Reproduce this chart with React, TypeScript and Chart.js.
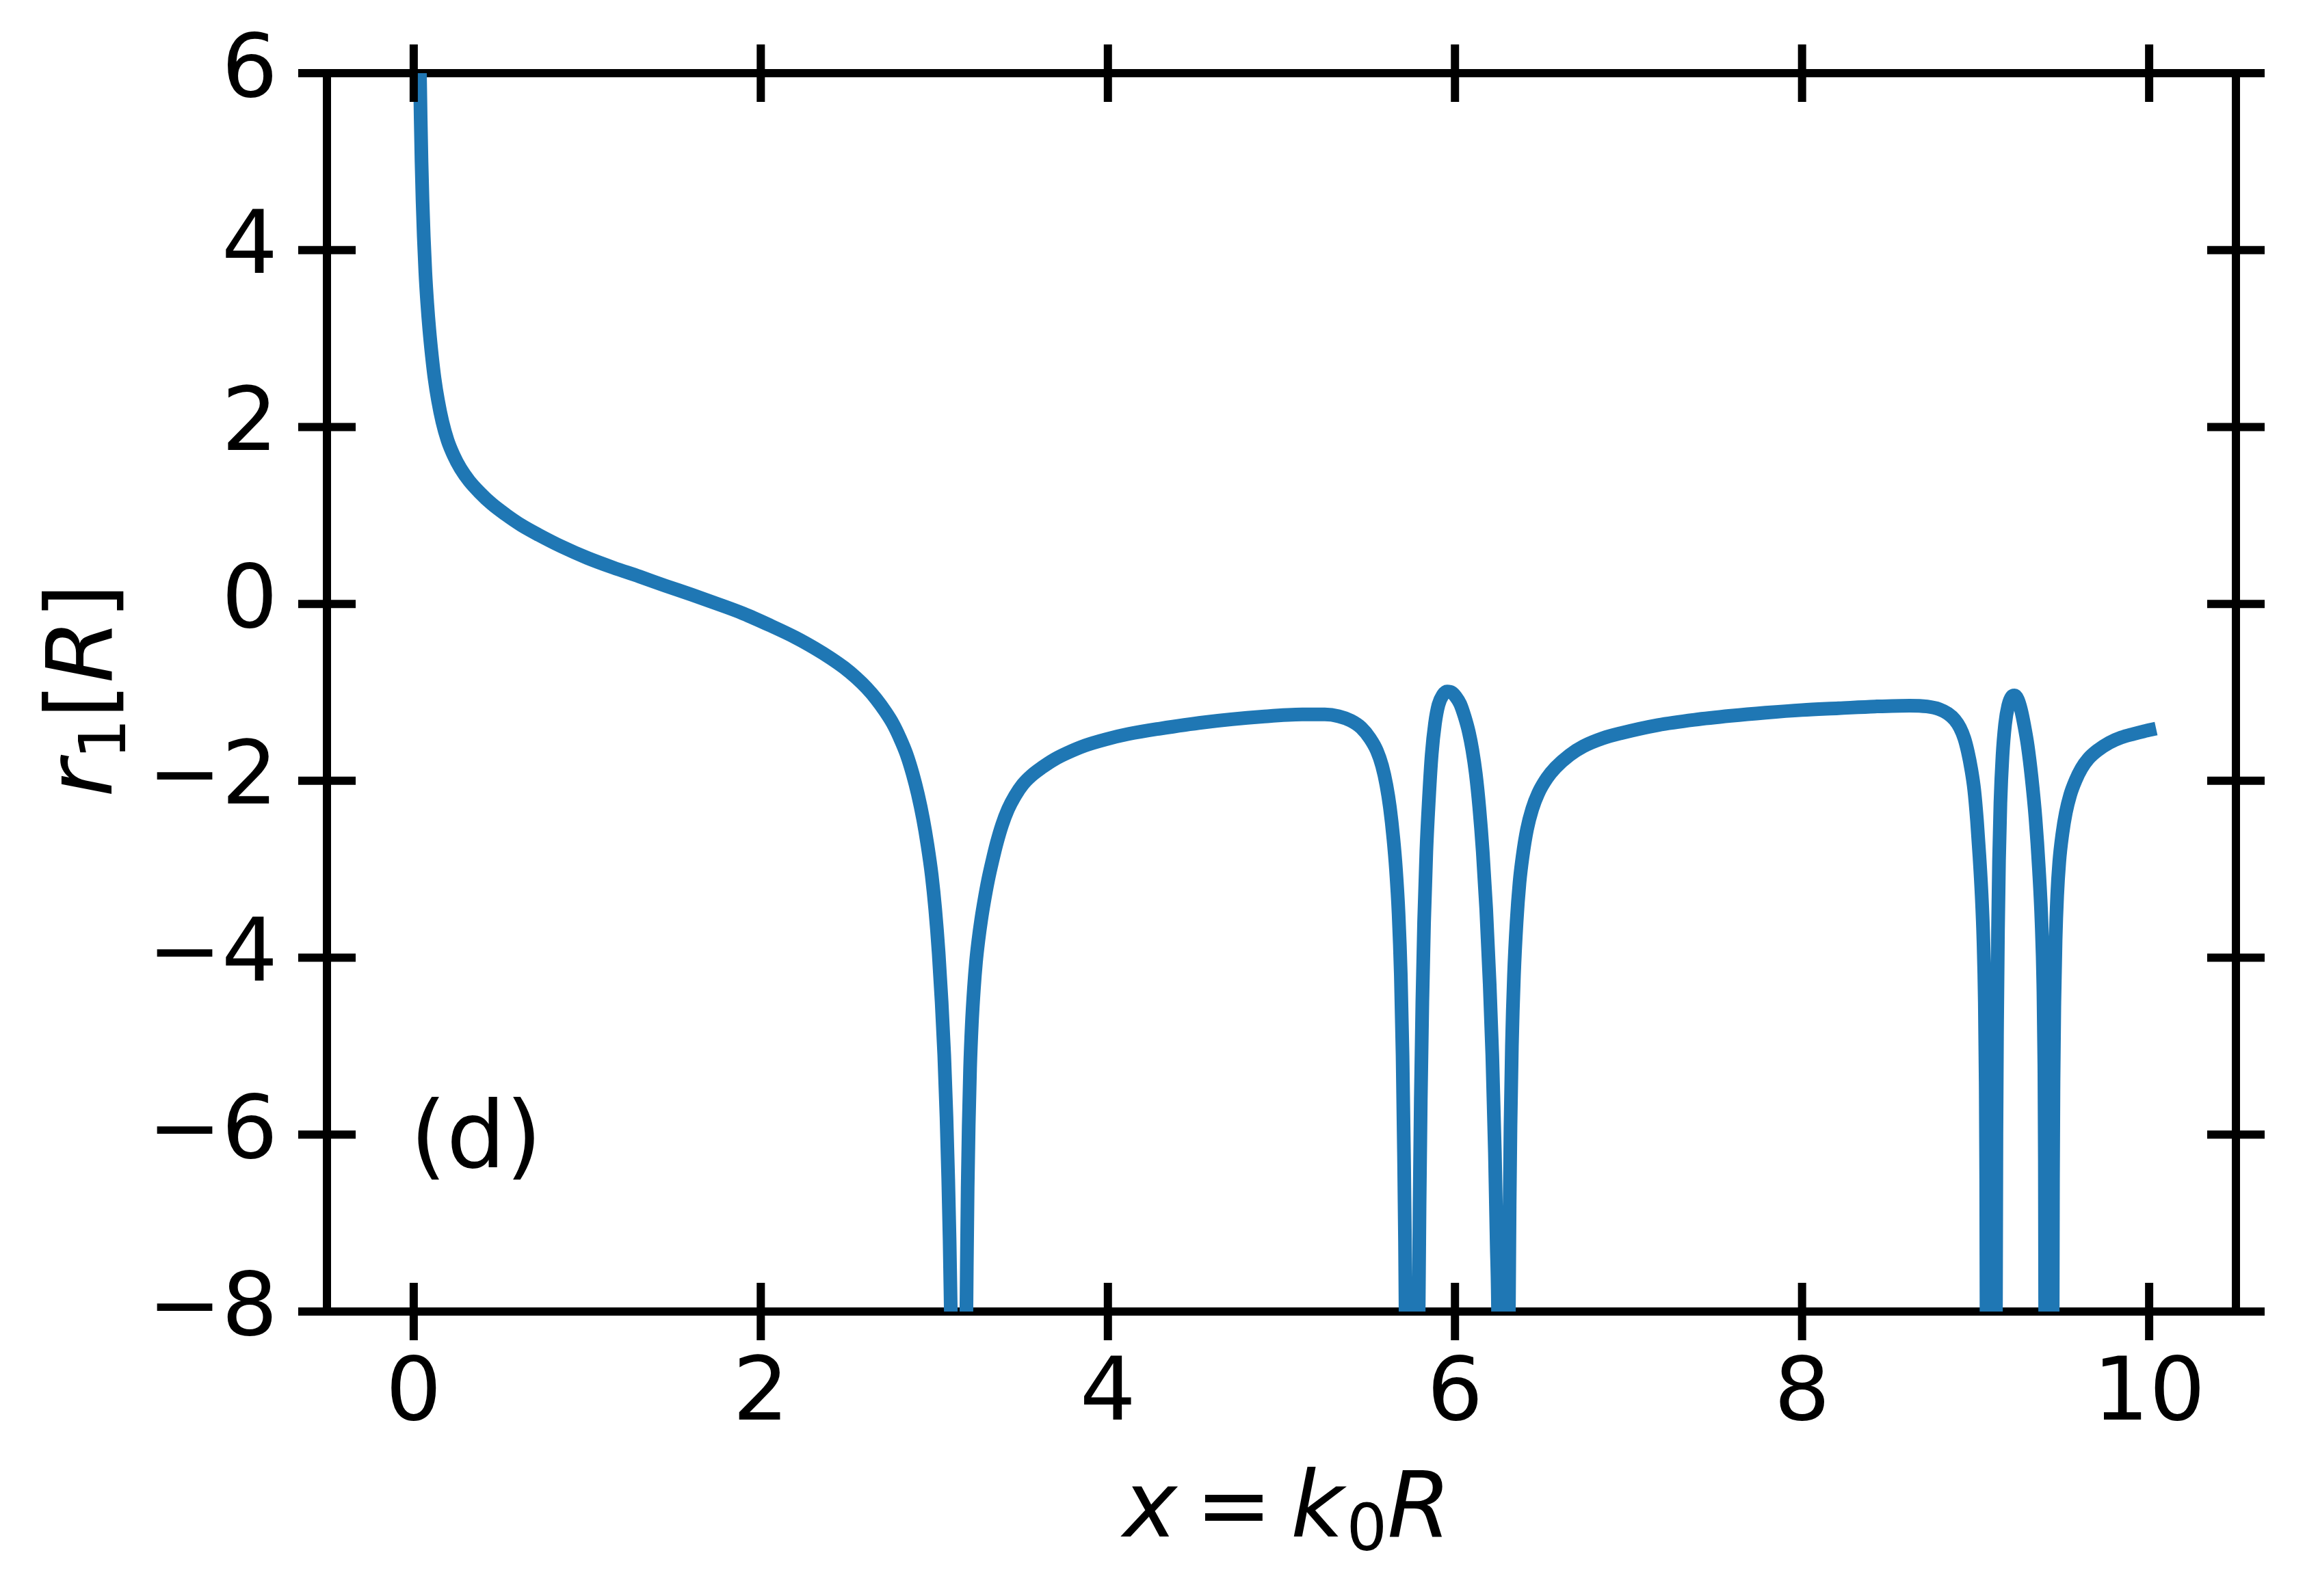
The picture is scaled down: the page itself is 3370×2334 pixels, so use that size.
import React, { useEffect, useRef } from 'react';
import { Chart, registerables } from 'chart.js';

Chart.register(...registerables);

// ---------- data ----------
const xTickValues = [0, 2, 4, 6, 8, 10];
const yTickValues = [-8, -6, -4, -2, 0, 2, 4, 6];
const xRange = [-0.5, 10.5];
const yRange = [-8, 6];

const curveX = [
  0.033, 0.036, 0.04, 0.045, 0.051, 0.058, 0.067, 0.078, 0.09, 0.105, 0.12, 0.14, 0.165, 0.195, 0.23, 0.27,
  0.32, 0.38, 0.45, 0.53, 0.62, 0.72, 0.85, 1.0, 1.15, 1.3, 1.45, 1.6, 1.75, 1.9, 2.05, 2.2,
  2.31, 2.4, 2.48, 2.55, 2.61, 2.665, 2.715, 2.76, 2.8, 2.84, 2.875, 2.905, 2.935, 2.96, 2.985, 3.005,
  3.025, 3.042, 3.057, 3.07, 3.08, 3.088, 3.094, 3.098, 3.14,
  3.183, 3.187, 3.192, 3.198, 3.206, 3.216, 3.228, 3.24, 3.254, 3.27, 3.29, 3.31, 3.335, 3.36, 3.39, 3.425,
  3.465, 3.51, 3.56, 3.62, 3.69, 3.76, 3.87, 3.99, 4.12, 4.3, 4.55, 4.89, 5.12, 5.25, 5.33, 5.4,
  5.46, 5.51, 5.55, 5.58, 5.605, 5.625, 5.645, 5.66, 5.675, 5.688, 5.698, 5.706, 5.712, 5.716, 5.75,
  5.79, 5.796, 5.803, 5.812, 5.822, 5.835, 5.85, 5.866, 5.885, 5.905, 5.93, 5.955, 5.98, 6.005,
  6.03, 6.055, 6.08, 6.1, 6.12, 6.14, 6.16, 6.18, 6.2, 6.215, 6.23, 6.24, 6.249, 6.28,
  6.31, 6.315, 6.32, 6.328, 6.34, 6.355, 6.372, 6.39, 6.415, 6.445, 6.48, 6.53, 6.58, 6.66, 6.74,
  6.85, 6.96, 7.17, 7.38, 7.59, 7.79, 8.0, 8.21, 8.42, 8.62, 8.72, 8.79, 8.84, 8.88, 8.91, 8.935,
  8.955, 8.975, 8.992, 9.008, 9.022, 9.035, 9.045, 9.053, 9.058, 9.061, 9.063, 9.09,
  9.117, 9.12, 9.124, 9.129, 9.135, 9.143, 9.155, 9.17, 9.188, 9.208, 9.225, 9.243, 9.262, 9.28,
  9.3, 9.322, 9.345, 9.365, 9.38, 9.39, 9.396, 9.399, 9.401, 9.42,
  9.444, 9.446, 9.449, 9.454, 9.461, 9.47, 9.482, 9.5, 9.52, 9.545, 9.575, 9.61, 9.65, 9.7, 9.77,
  9.84, 9.91, 9.97, 10.04,
];

const curveY = [
  6.4, 6.0, 5.5, 5.0, 4.55, 4.15, 3.75, 3.4, 3.1, 2.8, 2.55, 2.3, 2.06, 1.85, 1.68, 1.53,
  1.39, 1.26, 1.13, 1.01, 0.89, 0.78, 0.65, 0.52, 0.41, 0.31, 0.205, 0.105, 0.0, -0.11, -0.24, -0.38,
  -0.5, -0.61, -0.72, -0.835, -0.95, -1.075, -1.21, -1.35, -1.51, -1.7, -1.92, -2.15, -2.43, -2.72, -3.07, -3.45,
  -3.95, -4.5, -5.1, -5.8, -6.5, -7.2, -7.9, -8.4, -20,
  -8.4, -7.5, -6.6, -5.9, -5.25, -4.75, -4.35, -4.05, -3.8, -3.57, -3.33, -3.12, -2.9, -2.7, -2.5, -2.32,
  -2.17, -2.04, -1.94, -1.85, -1.76, -1.69, -1.6, -1.53, -1.47, -1.41, -1.34, -1.275, -1.25, -1.25, -1.27, -1.32,
  -1.4, -1.52, -1.66, -1.83, -2.05, -2.3, -2.65, -3.0, -3.5, -4.2, -5.1, -6.2, -7.2, -8.2, -20,
  -8.2, -6.8, -5.6, -4.5, -3.6, -2.8, -2.2, -1.7, -1.35, -1.14, -1.03, -0.99, -1.0, -1.05,
  -1.13, -1.27, -1.45, -1.65, -1.92, -2.3, -2.8, -3.45, -4.3, -5.1, -6.2, -7.2, -8.2, -20,
  -8.2, -6.8, -5.9, -5.0, -4.2, -3.6, -3.15, -2.85, -2.55, -2.32, -2.14, -1.97, -1.85, -1.71, -1.61,
  -1.52, -1.46, -1.37, -1.31, -1.265, -1.23, -1.2, -1.18, -1.16, -1.15, -1.16, -1.19, -1.24, -1.31, -1.4, -1.52,
  -1.67, -1.87, -2.1, -2.45, -2.85, -3.3, -3.8, -4.5, -5.4, -6.5, -8.2, -20,
  -8.2, -6.0, -4.7, -3.7, -2.9, -2.25, -1.72, -1.36, -1.15, -1.05, -1.035, -1.08, -1.2, -1.37,
  -1.6, -1.95, -2.42, -3.0, -3.6, -4.3, -5.2, -6.3, -8.2, -20,
  -8.2, -6.5, -5.4, -4.5, -3.8, -3.3, -2.92, -2.6, -2.36, -2.16, -2.0, -1.86, -1.75, -1.66, -1.57,
  -1.51, -1.47, -1.44, -1.41,
];

const panelLabel = '(d)';
const panelLabelAt = [-0.02, -6.37];

// ---------- styling ----------
const FONT = '"DejaVu Sans", "Liberation Sans", sans-serif';
const TICK_FONT_SIZE = 129;
const LABEL_FONT_SIZE = 134;
const LINE_COLOR = '#1f77b4';
const SPINE_W = 12;
const TICK_HALF = 42;

const fmtTick = (v: number | string) => {
  const n = Number(v);
  return n < 0 ? '\u2212' + Math.abs(n) : String(n);
};

type Part = { t: string; italic?: boolean; sub?: boolean; gapBefore?: number };

const xLabelParts: Part[] = [
  { t: 'x', italic: true },
  { t: '=', gapBefore: 0.2 },
  { t: 'k', italic: true, gapBefore: 0.2 },
  { t: '0', sub: true, gapBefore: 0.03 },
  { t: 'R', italic: true },
];
const yLabelParts: Part[] = [
  { t: 'r', italic: true },
  { t: '1', sub: true },
  { t: '[' },
  { t: 'R', italic: true },
  { t: ']' },
];

function partFont(p: Part, size: number) {
  const s = p.sub ? size * 0.7 : size;
  return `${p.italic ? 'italic ' : ''}${s}px ${FONT}`;
}

function layoutParts(ctx: CanvasRenderingContext2D, parts: Part[], size: number) {
  let cur = 0;
  const out: { p: Part; x: number }[] = [];
  for (const p of parts) {
    cur += (p.gapBefore || 0) * size;
    ctx.font = partFont(p, size);
    out.push({ p, x: cur });
    cur += ctx.measureText(p.t).width;
  }
  return { items: out, total: cur };
}

function drawParts(ctx: CanvasRenderingContext2D, parts: Part[], size: number, shift: number) {
  const { items, total } = layoutParts(ctx, parts, size);
  const start = -total / 2 + shift;
  ctx.textBaseline = 'alphabetic';
  ctx.textAlign = 'left';
  for (const it of items) {
    ctx.font = partFont(it.p, size);
    ctx.fillText(it.p.t, start + it.x, it.p.sub ? size * 0.15 : 0);
  }
}

const decorPlugin = {
  id: 'decor',
  afterDraw(chart: any) {
    const ctx: CanvasRenderingContext2D = chart.ctx;
    const a = chart.chartArea;
    ctx.save();
    // inout tick marks on all four sides
    ctx.strokeStyle = '#000';
    ctx.lineWidth = SPINE_W;
    ctx.lineCap = 'butt';
    ctx.beginPath();
    for (const id of ['x', 'x2']) {
      const s = chart.scales[id];
      const edge = id === 'x' ? a.bottom : a.top;
      for (const t of s.ticks) {
        const p = s.getPixelForValue(t.value);
        ctx.moveTo(p, edge - TICK_HALF);
        ctx.lineTo(p, edge + TICK_HALF);
      }
    }
    for (const id of ['y', 'y2']) {
      const s = chart.scales[id];
      const edge = id === 'y' ? a.left : a.right;
      for (const t of s.ticks) {
        const p = s.getPixelForValue(t.value);
        ctx.moveTo(edge - TICK_HALF, p);
        ctx.lineTo(edge + TICK_HALF, p);
      }
    }
    ctx.stroke();

    ctx.fillStyle = '#000';
    // panel label
    ctx.font = `136px ${FONT}`;
    ctx.textAlign = 'left';
    ctx.textBaseline = 'alphabetic';
    ctx.fillText(
      panelLabel,
      chart.scales.x.getPixelForValue(panelLabelAt[0]),
      chart.scales.y.getPixelForValue(panelLabelAt[1])
    );

    // x axis title
    ctx.save();
    ctx.translate((a.left + a.right) / 2, a.bottom + 329);
    drawParts(ctx, xLabelParts, LABEL_FONT_SIZE, 8);
    ctx.restore();

    // y axis title (rotated)
    ctx.save();
    ctx.translate(a.left - 315, (a.top + a.bottom) / 2);
    ctx.rotate(-Math.PI / 2);
    drawParts(ctx, yLabelParts, LABEL_FONT_SIZE, 3);
    ctx.restore();

    ctx.restore();
  },
};

const zeroPad = (s: any) => {
  s.paddingTop = 0;
  s.paddingBottom = 0;
  s.paddingLeft = 0;
  s.paddingRight = 0;
};

export default function App() {
  const ref = useRef<HTMLCanvasElement>(null);

  useEffect(() => {
    if (!ref.current) return;
    const tickFont = { family: FONT, size: TICK_FONT_SIZE, lineHeight: 1.2 };
    const common: any = {
      type: 'linear',
      grid: { display: false, drawTicks: false },
      border: { display: true, color: '#000', width: SPINE_W },
      z: 1,
    };
    const points = curveX.map((x, i) => ({ x, y: curveY[i] }));
    const chart = new Chart(ref.current, {
      type: 'line',
      data: {
        datasets: [
          {
            data: points,
            borderColor: LINE_COLOR,
            backgroundColor: LINE_COLOR,
            borderWidth: 20,
            pointRadius: 0,
            pointHoverRadius: 0,
            fill: false,
            cubicInterpolationMode: 'monotone',
            borderJoinStyle: 'round',
            borderCapStyle: 'butt',
            clip: 0,
          } as any,
        ],
      },
      options: {
        responsive: false,
        animation: false,
        devicePixelRatio: 1,
        layout: { padding: 0 },
        plugins: {
          legend: { display: false },
          tooltip: { enabled: false },
          title: { display: false },
        },
        events: [],
        scales: {
          x: {
            ...common,
            position: 'bottom',
            min: xRange[0],
            max: xRange[1],
            afterBuildTicks: (s: any) => {
              s.ticks = xTickValues.map((v) => ({ value: v }));
            },
            afterFit: (s: any) => {
              s.height = 416;
              zeroPad(s);
            },
            ticks: {
              display: true,
              padding: 47,
              font: tickFont,
              color: '#000',
              maxRotation: 0,
              minRotation: 0,
              autoSkip: false,
              callback: (v: any) => fmtTick(v),
            },
          },
          x2: {
            ...common,
            position: 'top',
            min: xRange[0],
            max: xRange[1],
            afterBuildTicks: (s: any) => {
              s.ticks = xTickValues.map((v) => ({ value: v }));
            },
            afterFit: (s: any) => {
              s.height = 107;
              zeroPad(s);
            },
            ticks: { display: false },
          },
          y: {
            ...common,
            position: 'left',
            min: yRange[0],
            max: yRange[1],
            afterBuildTicks: (s: any) => {
              s.ticks = yTickValues.map((v) => ({ value: v }));
            },
            afterFit: (s: any) => {
              s.width = 478;
              zeroPad(s);
            },
            ticks: {
              display: true,
              padding: 72,
              font: tickFont,
              color: '#000',
              autoSkip: false,
              callback: (v: any) => fmtTick(v),
            },
          },
          y2: {
            ...common,
            position: 'right',
            min: yRange[0],
            max: yRange[1],
            afterBuildTicks: (s: any) => {
              s.ticks = yTickValues.map((v) => ({ value: v }));
            },
            afterFit: (s: any) => {
              s.width = 101;
              zeroPad(s);
            },
            ticks: { display: false },
          },
        } as any,
      },
      plugins: [decorPlugin],
    });
    return () => chart.destroy();
  }, []);

  return (
    <div style={{ position: 'absolute', left: 0, top: 0, width: 3370, height: 2334, background: '#fff' }}>
      <canvas ref={ref} width={3370} height={2334} style={{ display: 'block', width: 3370, height: 2334 }} />
    </div>
  );
}
